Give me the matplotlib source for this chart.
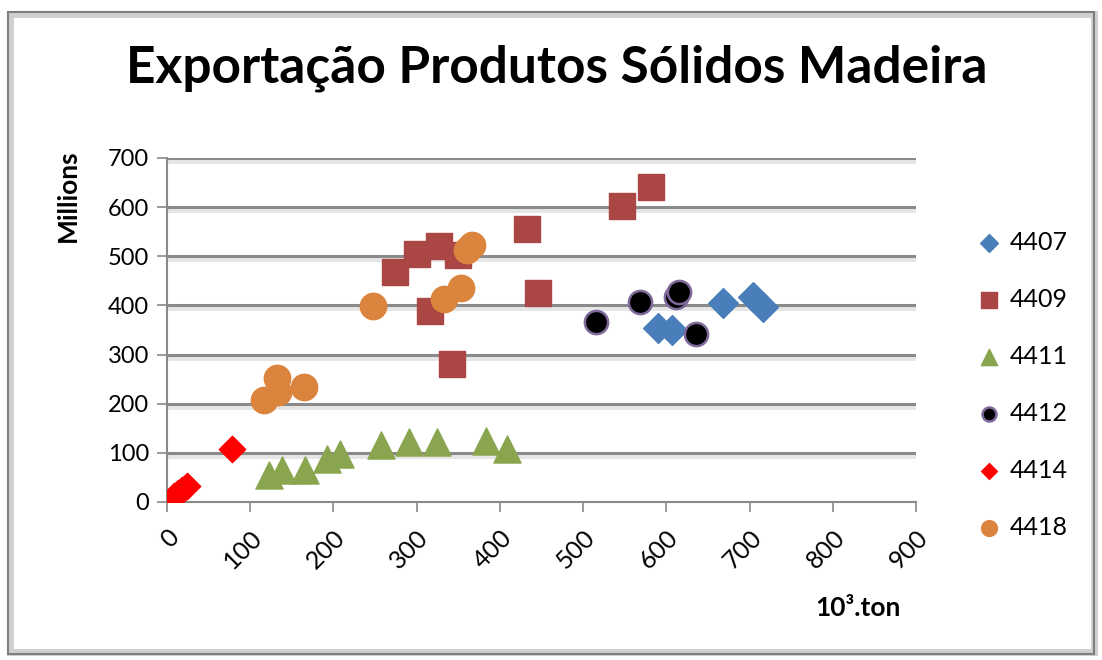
import matplotlib
matplotlib.use("Agg")
import matplotlib.pyplot as plt
from matplotlib.patches import Rectangle

plt.rcParams['font.family'] = ['Lato', 'DejaVu Sans']

# series data (x = 10^3 ton, y = millions)
x_4407 = [590, 607, 668, 704, 716]
y_4407 = [355, 350, 405, 418, 397]

x_4409 = [274, 300, 327, 350, 316, 342, 432, 446, 547, 582]
y_4409 = [468, 505, 521, 503, 389, 281, 556, 425, 603, 640]

x_4411 = [122, 138, 166, 192, 208, 257, 291, 324, 383, 408]
y_4411 = [55, 65, 65, 88, 98, 116, 122, 122, 124, 108]

x_4412 = [515, 568, 612, 615, 636]
y_4412 = [367, 407, 418, 428, 342]

x_4414 = [8, 13, 18, 24, 78]
y_4414 = [12, 18, 25, 33, 108]

x_4418 = [117, 133, 132, 165, 248, 333, 353, 360, 366]
y_4418 = [208, 224, 253, 234, 399, 413, 436, 512, 522]

x_ticks = [0, 100, 200, 300, 400, 500, 600, 700, 800, 900]
y_ticks = [0, 100, 200, 300, 400, 500, 600, 700]

fig = plt.figure(figsize=(11.02, 6.6), dpi=100)

# outer chart frame
fig.patches.append(Rectangle((10 / 1102, 8 / 660), 1084 / 1102, 638 / 660,
                             transform=fig.transFigure, fill=False,
                             edgecolor='#d0d0d0', linewidth=5))
fig.patches.append(Rectangle((8 / 1102, 6 / 660), 1086 / 1102, 642 / 660,
                             transform=fig.transFigure, fill=False,
                             edgecolor='#7f7f7f', linewidth=1.5))

ax = fig.add_axes([167 / 1102, 1 - 502 / 660, 749 / 1102, 344 / 660])
ax.set_xlim(0, 900)
ax.set_ylim(0, 700)

# gridlines with a soft shadow
for yv in y_ticks[1:]:
    ax.axhline(yv - 4, color='#e6e6e6', linewidth=5, zorder=0)
    ax.axhline(yv, color='#8a8a8a', linewidth=2.2, zorder=1)

ax.scatter(x_4407, y_4407, marker='D', s=230, color='#4a7ebb', label='4407', zorder=3)
ax.scatter(x_4409, y_4409, marker='s', s=330, color='#aa4643', label='4409', zorder=3)
ax.scatter(x_4411, y_4411, marker='^', s=380, color='#89a54e', label='4411', zorder=3)
ax.scatter(x_4412, y_4412, marker='o', s=280, color='black', edgecolors='#80699b',
           linewidths=1.8, label='4412', zorder=3)
ax.scatter(x_4414, y_4414, marker='D', s=180, color='#ff0000', label='4414', zorder=3)
ax.scatter(x_4418, y_4418, marker='o', s=360, color='#db843d', label='4418', zorder=3)

for side in ['top', 'right']:
    ax.spines[side].set_visible(False)
for side in ['left', 'bottom']:
    ax.spines[side].set_color('#8a8a8a')
    ax.spines[side].set_linewidth(1.5)

ax.set_xticks(x_ticks)
ax.set_yticks(y_ticks)
ax.set_xticklabels([str(v) for v in x_ticks], rotation=45, ha='right',
                   rotation_mode='anchor', fontsize=18)
ax.set_yticklabels([str(v) for v in y_ticks], fontsize=17)
ax.tick_params(axis='both', direction='out', length=7, width=1.2,
               color='#8a8a8a', pad=6)
ax.tick_params(axis='x', pad=10)

fig.text(557 / 1102, 1 - 68 / 660, 'Exportação Produtos Sólidos Madeira',
         ha='center', va='center', fontsize=37, fontweight='bold')
fig.text(68 / 1102, 1 - 196 / 660, 'Millions', rotation=90, ha='center',
         va='center', fontsize=19, fontweight='bold')
fig.text(858 / 1102, 1 - 608 / 660, '10³.ton', ha='center', va='center',
         fontsize=19, fontweight='bold')

leg = ax.legend(loc='upper left', bbox_to_anchor=(978 / 1102, 1 - 231 / 660),
                bbox_transform=fig.transFigure, frameon=False, fontsize=18,
                labelspacing=1.36, handlelength=0.9, handletextpad=0.35,
                markerscale=0.6, borderaxespad=0, borderpad=0)

fig.savefig('out.png', dpi=100)
